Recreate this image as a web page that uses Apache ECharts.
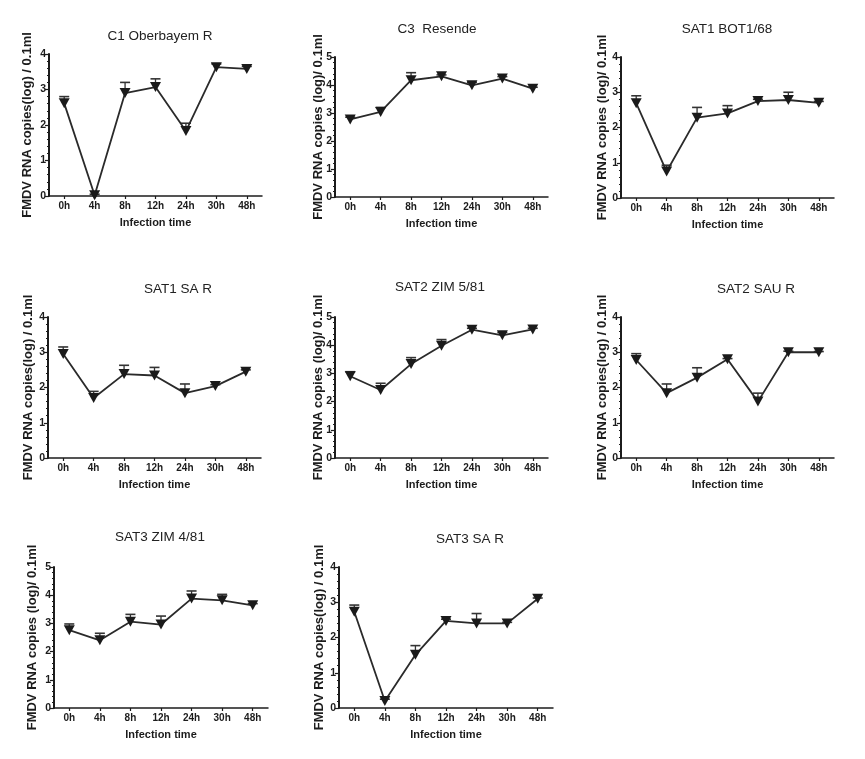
<!DOCTYPE html>
<html>
<head>
<meta charset="utf-8">
<script src="https://cdn.jsdelivr.net/npm/echarts@6/dist/echarts.min.js"></script>
<style>
html,body{margin:0;padding:0;background:#fff;}
#chart{width:865px;height:759px;}
</style>
</head>
<body>
<div id="chart"></div>
<script>
// ---- data ----
const categories = ['0h', '4h', '8h', '12h', '24h', '30h', '48h'];

const titles = ['C1 Oberbayem R', 'C3  Resende', 'SAT1 BOT1/68', 'SAT1 SA R',
                'SAT2 ZIM 5/81', 'SAT2 SAU R', 'SAT3 ZIM 4/81', 'SAT3 SA R'];
const yTitles = ['FMDV RNA copies(log) / 0.1ml', 'FMDV RNA copies (log)/ 0.1ml',
                 'FMDV RNA copies (log)/ 0.1ml', 'FMDV RNA copies(log) / 0.1ml',
                 'FMDV RNA copies (log)/ 0.1ml', 'FMDV RNA copies(log) / 0.1ml',
                 'FMDV RNA copies (log)/ 0.1ml', 'FMDV RNA copies(log) / 0.1ml'];
const yMax = [4, 5, 4, 4, 5, 4, 5, 4];
const xName = 'Infection time';

const c1Mean      = [2.61, 0.02, 2.90, 3.07, 1.83, 3.63, 3.58];
const c1Upper     = [2.80, 0.05, 3.20, 3.30, 2.05, 3.72, 3.65];
const c3Mean      = [2.77, 3.04, 4.17, 4.31, 3.99, 4.23, 3.87];
const c3Upper     = [2.85, 3.20, 4.44, 4.36, 4.10, 4.30, 3.92];
const sat1BotMean = [2.69, 0.75, 2.28, 2.40, 2.75, 2.78, 2.70];
const sat1BotUpper= [2.90, 0.93, 2.57, 2.62, 2.80, 3.00, 2.74];
const sat1SaMean  = [2.95, 1.70, 2.38, 2.34, 1.84, 2.04, 2.45];
const sat1SaUpper = [3.15, 1.89, 2.63, 2.57, 2.10, 2.08, 2.50];
const sat2ZimMean = [2.90, 2.41, 3.33, 3.98, 4.55, 4.35, 4.56];
const sat2ZimUpper= [3.06, 2.65, 3.56, 4.20, 4.60, 4.45, 4.60];
const sat2SauMean = [2.78, 1.84, 2.28, 2.80, 1.60, 3.00, 3.00];
const sat2SauUpper= [2.96, 2.10, 2.56, 2.82, 1.84, 3.03, 3.02];
const sat3ZimMean = [2.76, 2.40, 3.06, 2.96, 3.88, 3.82, 3.64];
const sat3ZimUpper= [2.98, 2.65, 3.32, 3.26, 4.15, 4.03, 3.70];
const sat3SaMean  = [2.73, 0.20, 1.51, 2.47, 2.40, 2.40, 3.10];
const sat3SaUpper = [2.92, 0.25, 1.77, 2.52, 2.68, 2.43, 3.12];

const means  = [c1Mean, c3Mean, sat1BotMean, sat1SaMean, sat2ZimMean, sat2SauMean, sat3ZimMean, sat3SaMean];
const uppers = [c1Upper, c3Upper, sat1BotUpper, sat1SaUpper, sat2ZimUpper, sat2SauUpper, sat3ZimUpper, sat3SaUpper];

// ---- layout (pixels) ----
const grids = [
  {left: 49,  top: 54,  width: 213, height: 142},
  {left: 335, top: 57,  width: 213, height: 140},
  {left: 621, top: 57,  width: 213, height: 141},
  {left: 48,  top: 317, width: 213, height: 141},
  {left: 335, top: 317, width: 213, height: 141},
  {left: 621, top: 317, width: 213, height: 141},
  {left: 54,  top: 567, width: 214, height: 141},
  {left: 339, top: 567, width: 214, height: 141}
];
const titlePos = [[155, 24], [432, 17], [722, 17], [173, 277], [435, 275], [751, 277], [155, 525], [465, 527]];
const yNameGap = [15, 10, 12, 13, 10, 12, 15, 13];

const FONT = '"Liberation Sans", Arial, sans-serif';
const INK = '#1c1c1c';

const option = {
  backgroundColor: '#fff',
  animation: false,
  title: titles.map((t, i) => ({
    text: t, left: titlePos[i][0], top: titlePos[i][1], textAlign: 'center',
    textStyle: {fontFamily: FONT, fontSize: 13.5, fontWeight: 'normal', color: '#222'}
  })),
  grid: grids.map(g => Object.assign({containLabel: false}, g)),
  xAxis: grids.map((g, i) => ({
    type: 'category', gridIndex: i, data: categories, boundaryGap: true,
    name: xName, nameLocation: 'middle', nameGap: 21,
    nameTextStyle: {fontFamily: FONT, fontSize: 11, fontWeight: 'bold', color: INK},
    axisLine: {lineStyle: {color: INK, width: 1.5}},
    axisTick: {show: true, alignWithLabel: true, length: 3, lineStyle: {color: INK, width: 1.2}},
    axisLabel: {fontFamily: FONT, fontSize: 10, fontWeight: 'bold', color: INK, margin: 5, interval: 0},
    splitLine: {show: false}
  })),
  yAxis: grids.map((g, i) => ({
    type: 'value', gridIndex: i, min: 0, max: yMax[i], interval: 1,
    name: yTitles[i], nameLocation: 'middle', nameGap: yNameGap[i], nameMoveOverlap: false,
    nameTextStyle: {fontFamily: FONT, fontSize: 13, fontWeight: 'bold', color: INK},
    axisLine: {show: true, lineStyle: {color: INK, width: 2}},
    axisTick: {show: true, length: 4, lineStyle: {color: INK, width: 1.2}},
    minorTick: {show: true, splitNumber: 5, length: 2, lineStyle: {color: INK, width: 1}},
    axisLabel: {fontFamily: FONT, fontSize: 10.5, fontWeight: 'bold', color: INK, margin: 3},
    splitLine: {show: false}
  })),
  series: []
};

means.forEach((m, i) => {
  option.series.push({
    type: 'custom', xAxisIndex: i, yAxisIndex: i, z: 1, clip: false,
    data: m.map((v, k) => [k, v, uppers[i][k]]),
    renderItem: function (params, api) {
      const p0 = api.coord([api.value(0), api.value(1)]);
      const p1 = api.coord([api.value(0), api.value(2)]);
      const half = 5;
      return {
        type: 'group',
        children: [
          {type: 'line', shape: {x1: p0[0], y1: p0[1], x2: p1[0], y2: p1[1]},
           style: {stroke: '#333', lineWidth: 1.3}},
          {type: 'line', shape: {x1: p1[0] - half, y1: p1[1], x2: p1[0] + half, y2: p1[1]},
           style: {stroke: '#333', lineWidth: 1.6}}
        ]
      };
    }
  });
  option.series.push({
    type: 'line', xAxisIndex: i, yAxisIndex: i, z: 3, clip: false,
    data: m,
    symbol: 'triangle', symbolRotate: 180, symbolSize: [11, 10], showAllSymbol: true,
    itemStyle: {color: '#1a1a1a'},
    lineStyle: {color: '#2a2a2a', width: 1.8}
  });
});

const chart = echarts.init(document.getElementById('chart'), null, {renderer: 'canvas'});
chart.setOption(option);
</script>
</body>
</html>
